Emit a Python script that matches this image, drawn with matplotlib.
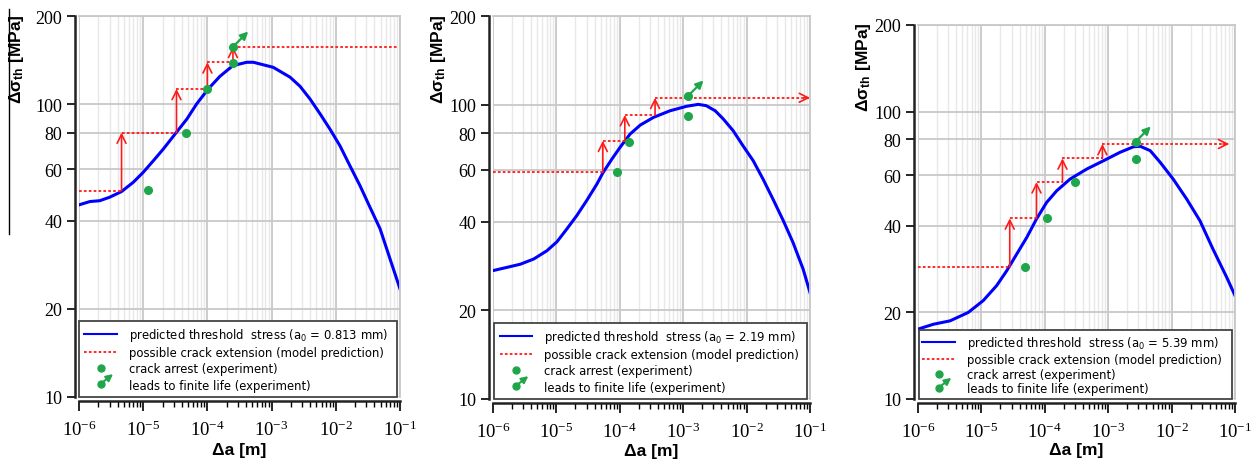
import numpy as np
import matplotlib
matplotlib.use("Agg")
import matplotlib.pyplot as plt
from matplotlib.lines import Line2D
from matplotlib.patches import FancyArrowPatch
from matplotlib.legend_handler import HandlerBase
from matplotlib.ticker import LogLocator, NullFormatter, NullLocator
from matplotlib.transforms import offset_copy

plt.rcParams['mathtext.default'] = 'regular'

# ---- data (crack length in m, stress range in MPa) ----
a0_labels = ["0.813", "2.19", "5.39"]

curve1_x = [1.0e-6, 1.48e-6, 2.1e-6, 3.0e-6, 4.6e-6, 7.0e-6, 1.0e-5, 1.44e-5, 2.06e-5, 3.3e-5,
            4.8e-5, 6.8e-5, 1.03e-4, 1.57e-4, 2.5e-4, 4.1e-4, 5.2e-4, 1.06e-3, 1.94e-3, 2.77e-3,
            3.96e-3, 5.7e-3, 8.1e-3, 1.16e-2, 1.66e-2, 2.38e-2, 3.4e-2, 4.9e-2, 7.0e-2, 1.0e-1]
curve1_y = [45.3, 46.5, 46.8, 48.1, 50.3, 54.1, 58.5, 64.1, 70.3, 80.2,
            89.0, 100.2, 112.7, 124.5, 135.4, 139.0, 139.0, 133.6, 123.6, 115.1,
            104.2, 92.6, 82.2, 72.1, 61.6, 52.7, 44.5, 37.5, 29.6, 23.4]

curve2_x = [1.0e-6, 1.66e-6, 2.7e-6, 4.4e-6, 7.1e-6, 1.02e-5, 1.46e-5, 2.1e-5, 3.0e-5, 4.35e-5,
            5.4e-5, 7.5e-5, 1.01e-4, 1.45e-4, 2.1e-4, 3.4e-4, 6.2e-4, 1.13e-3, 1.73e-3, 2.3e-3,
            3.2e-3, 4.3e-3, 6.15e-3, 8.8e-3, 1.27e-2, 1.82e-2, 2.6e-2, 3.8e-2, 5.4e-2, 7.8e-2, 1.0e-1]
curve2_y = [27.3, 28.0, 28.7, 29.9, 31.9, 34.2, 37.8, 42.0, 47.2, 53.7,
            58.6, 65.3, 71.6, 79.4, 85.2, 90.5, 95.3, 98.7, 100.2, 99.2,
            95.3, 89.3, 81.5, 72.4, 64.5, 55.8, 47.8, 40.3, 34.0, 27.6, 23.0]

curve3_x = [1.0e-6, 1.75e-6, 3.2e-6, 6.2e-6, 1.07e-5, 1.74e-5, 2.5e-5, 3.6e-5, 5.2e-5, 7.4e-5,
            1.07e-4, 1.54e-4, 2.5e-4, 4.6e-4, 8.4e-4, 1.53e-3, 2.5e-3, 3.2e-3, 4.6e-3, 6.6e-3,
            1.06e-2, 1.73e-2, 2.8e-2, 4.5e-2, 7.4e-2, 1.0e-1]
curve3_y = [17.5, 18.2, 18.7, 20.0, 22.0, 24.8, 27.9, 31.9, 36.5, 42.3,
            48.3, 53.0, 58.2, 63.1, 67.4, 72.1, 75.4, 75.7, 73.1, 66.6,
            58.2, 49.6, 41.7, 33.2, 26.5, 22.9]

# crack extension steps: x of each jump, stress levels before/after jumps, end of last level
step1_x = [4.6e-6, 3.3e-5, 1.0e-4, 2.5e-4]
step1_lvl = [50.7, 80.0, 112.7, 139.0, 157.0]
step1_end = 9.0e-2
step2_x = [5.4e-5, 1.2e-4, 3.6e-4]
step2_lvl = [58.9, 75.4, 92.2, 105.5]
step2_end = 1.0e-1
step3_x = [2.8e-5, 7.4e-5, 1.9e-4, 8.1e-4]
step3_lvl = [28.8, 42.5, 56.8, 68.7, 77.1]
step3_end = 8.1e-2

arrest1_x = [1.2e-5, 4.6e-5, 1.0e-4, 2.5e-4]
arrest1_y = [51.0, 80.0, 112.7, 138.0]
arrest2_x = [9.1e-5, 1.4e-4, 1.2e-3]
arrest2_y = [58.9, 74.8, 91.6]
arrest3_x = [4.8e-5, 1.1e-4, 3.0e-4, 2.7e-3]
arrest3_y = [28.9, 42.5, 56.9, 68.4]

finite_x = [2.5e-4, 1.2e-3, 2.7e-3]
finite_y = [157.0, 107.2, 78.5]

yticks = [10, 20, 40, 60, 80, 100, 200]

BLUE = '#0000ff'
RED = '#ff1a1a'
GREEN = '#1fa64a'
DOTS = (0, (1.5, 1.2))


class FiniteLifeHandler(HandlerBase):
    def create_artists(self, legend, orig_handle, xdescent, ydescent,
                       width, height, fontsize, trans):
        cx = 0.5 * width - xdescent
        cy = 0.6 * height - ydescent
        dot = Line2D([cx], [cy], marker='o', color=GREEN, markersize=5,
                     linestyle='none', transform=trans)
        arr = FancyArrowPatch((cx, cy), (cx + 9, cy + 7),
                              arrowstyle='-|>,head_length=0.5,head_width=0.25',
                              mutation_scale=8, color=GREEN, lw=1.5,
                              shrinkA=0, shrinkB=0, transform=trans)
        return [dot, arr]


def draw_panel(ax, cx, cy, sx, slvl, send, end_arrow, ax_x, ax_y, fx, fy, a0,
               ylab_x, xlab_y, leg_x, leg_sp, leg_pad):
    ax.set_xscale('log')
    ax.set_yscale('log')
    ax.set_xlim(1e-6, 1e-1)
    ax.set_ylim(10, 200)

    # red dotted levels and vertical arrows
    xs = [1e-6] + sx
    for i, lvl in enumerate(slvl):
        x0 = xs[i]
        x1 = xs[i + 1] if i + 1 < len(xs) else send
        ax.plot([x0, x1], [lvl, lvl], color=RED, lw=1.3, linestyle=DOTS, zorder=3)
    for i, x in enumerate(sx):
        ax.annotate('', xy=(x, slvl[i + 1]), xytext=(x, slvl[i]),
                    arrowprops=dict(arrowstyle='->', color=RED, lw=1.2,
                                    mutation_scale=16, shrinkA=0, shrinkB=0),
                    zorder=4)
    if end_arrow:
        ax.annotate('', xy=(send, slvl[-1]), xytext=(send * 0.8, slvl[-1]),
                    arrowprops=dict(arrowstyle='->', color=RED, lw=1.2,
                                    mutation_scale=16, shrinkA=0, shrinkB=0),
                    zorder=4)

    ax.plot(cx, cy, color=BLUE, lw=2.2, zorder=2, solid_joinstyle='round')

    ax.plot(ax_x, ax_y, 'o', color=GREEN, markersize=5.5, zorder=5)
    ax.plot([fx], [fy], 'o', color=GREEN, markersize=5.5, zorder=5)
    tr = offset_copy(ax.transData, fig=ax.figure, x=11, y=11, units='points')
    ax.annotate('', xy=(fx, fy), xycoords=tr, xytext=(fx, fy), textcoords='data',
                arrowprops=dict(arrowstyle='-|>,head_length=0.5,head_width=0.25',
                                color=GREEN, lw=1.6, mutation_scale=9,
                                shrinkA=0, shrinkB=0), zorder=5)

    # axes styling
    ax.set_axisbelow(True)
    ax.grid(True, which='major', axis='both', color='#c8c8c8', lw=1.3)
    ax.grid(True, which='minor', axis='x', color='#e8e8e8', lw=1.0)
    ax.xaxis.set_major_locator(LogLocator(base=10, numticks=10))
    ax.xaxis.set_minor_locator(LogLocator(base=10, subs=np.arange(2, 10), numticks=10))
    ax.xaxis.set_minor_formatter(NullFormatter())
    ax.set_yticks(yticks)
    ax.set_yticklabels([str(v) for v in yticks])
    ax.yaxis.set_minor_locator(NullLocator())
    ax.tick_params(axis='x', which='major', length=7, width=1.2, pad=6,
                   labelsize=13.5, labelfontfamily='Liberation Serif')
    ax.tick_params(axis='x', which='minor', length=4, width=1.0)
    ax.tick_params(axis='y', which='major', length=6, width=1.2, pad=3,
                   labelsize=13, labelfontfamily='Liberation Serif')
    for s in ['left', 'bottom']:
        ax.spines[s].set_position(('outward', 3))
        ax.spines[s].set_linewidth(1.8)
        ax.spines[s].set_color('#222222')
    for s in ['top', 'right']:
        ax.spines[s].set_color('#c8c8c8')
        ax.spines[s].set_linewidth(1.3)

    ax.set_ylabel('Δσ$_{th}$ [MPa]', fontfamily='Liberation Sans',
                  fontweight='bold', fontsize=12.5)
    ax.yaxis.set_label_coords(ylab_x, 0.89)
    ax.set_xlabel('Δa [m]', fontfamily='Liberation Sans', fontweight='bold',
                  fontsize=12.5, va='top')
    ax.xaxis.set_label_coords(0.5, xlab_y)

    h4 = Line2D([], [])
    handles = [Line2D([], [], color=BLUE, lw=1.5),
               Line2D([], [], color=RED, lw=1.3, linestyle=DOTS),
               Line2D([], [], color=GREEN, marker='o', markersize=5, linestyle='none'),
               h4]
    labels = ['predicted threshold  stress (a$_0$ = %s mm)' % a0,
              'possible crack extension (model prediction)',
              'crack arrest (experiment)',
              'leads to finite life (experiment)']
    leg = ax.legend(handles, labels, loc='lower left',
                    bbox_to_anchor=(leg_x, 0, 0.99 - leg_x, 0.2), mode='expand',
                    borderaxespad=0, fancybox=False, framealpha=1,
                    prop={'family': 'DejaVu Sans', 'size': 8.4},
                    handlelength=2.8, handletextpad=1.0, labelspacing=leg_sp,
                    borderpad=leg_pad, handler_map={h4: FiniteLifeHandler()})
    leg.get_frame().set_edgecolor('#444444')
    leg.get_frame().set_linewidth(1.3)
    leg.set_zorder(10)


fig = plt.figure(figsize=(12.6, 4.6), dpi=100)
W, H = 1260.0, 460.0
ax1 = fig.add_axes([79 / W, 1 - 398 / H, 321 / W, 381 / H])
ax2 = fig.add_axes([493 / W, 1 - 400 / H, 317 / W, 383 / H])
ax3 = fig.add_axes([918 / W, 1 - 400 / H, 317 / W, 374 / H])

draw_panel(ax1, curve1_x, curve1_y, step1_x, step1_lvl, step1_end, False,
           arrest1_x, arrest1_y, finite_x[0], finite_y[0], a0_labels[0],
           -0.165, -0.118, 0.0, 0.28, 0.45)
draw_panel(ax2, curve2_x, curve2_y, step2_x, step2_lvl, step2_end, True,
           arrest2_x, arrest2_y, finite_x[1], finite_y[1], a0_labels[1],
           -0.141, -0.115, 0.004, 0.28, 0.45)
draw_panel(ax3, curve3_x, curve3_y, step3_x, step3_lvl, step3_end, True,
           arrest3_x, arrest3_y, finite_x[2], finite_y[2], a0_labels[2],
           -0.142, -0.115, 0.003, 0.16, 0.3)

# stray vertical rule at the far left of the source image
fig.add_artist(Line2D([9 / W, 9 / W], [1 - 10 / H, 1 - 235 / H], color='black',
                      lw=1.0, transform=fig.transFigure))

fig.savefig('out.png', dpi=100)
